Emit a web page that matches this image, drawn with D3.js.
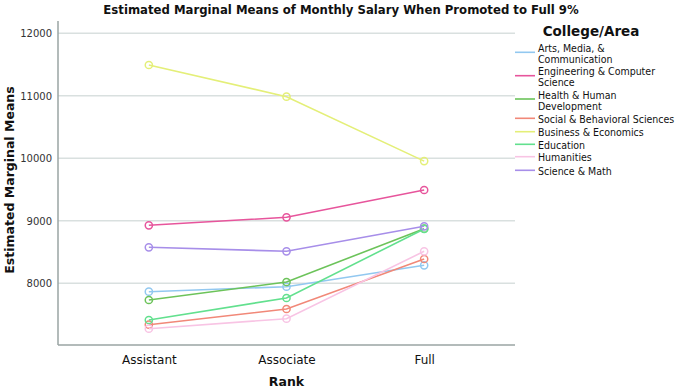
<!DOCTYPE html>
<html>
<head>
<meta charset="utf-8">
<script src="https://cdn.jsdelivr.net/npm/d3@7"></script>
<style>
  body { margin: 0; background: #fff; }
  text { font-family: "DejaVu Sans", sans-serif; fill: #111; }
  .narrow { font-family: "DejaVu Sans Condensed", "Liberation Sans Narrow", sans-serif; }
</style>
</head>
<body>
<svg id="chart" width="685" height="390"></svg>
<script>
const ranks = ["Assistant", "Associate", "Full"];
const colleges = [
  "Arts, Media, & Communication",
  "Engineering & Computer Science",
  "Health & Human Development",
  "Social & Behavioral Sciences",
  "Business & Economics",
  "Education",
  "Humanities",
  "Science & Math"
];
// legend wraps some names onto two lines
const legendLines = [
  ["Arts, Media, &", "Communication"],
  ["Engineering & Computer", "Science"],
  ["Health & Human", "Development"],
  ["Social & Behavioral Sciences"],
  ["Business & Economics"],
  ["Education"],
  ["Humanities"],
  ["Science & Math"]
];
const colors = ["#92c8f0", "#e7559c", "#6cc35a", "#f18878", "#e4ef78", "#62e08e", "#f8c4e4", "#a78ee9"];
const means = [
  [7866, 7946, 8288],
  [8928, 9056, 9493],
  [7733, 8021, 8874],
  [7338, 7589, 8389],
  [11493, 10986, 9955],
  [7413, 7765, 8870],
  [7274, 7434, 8512],
  [8576, 8512, 8912]
];
const yTicks = [8000, 9000, 10000, 11000, 12000];

const svg = d3.select("#chart");
const plotLeft = 58, plotRight = 515, plotTop = 21, plotBottom = 345;

const x = d3.scalePoint().domain(ranks).range([plotLeft, plotRight]).padding(0.66);
const y = d3.scaleLinear().domain([8000, 12000]).range([283.3, 33.3]);

// title
svg.append("text")
  .attr("class", "narrow")
  .attr("x", 341).attr("y", 9)
  .attr("dy", ".35em")
  .attr("text-anchor", "middle")
  .attr("font-size", 13)
  .attr("font-weight", "bold")
  .text("Estimated Marginal Means of Monthly Salary When Promoted to Full 9%");

// gridlines
svg.append("g")
  .selectAll("line")
  .data(yTicks)
  .join("line")
  .attr("x1", plotLeft).attr("x2", plotRight)
  .attr("y1", d => y(d)).attr("y2", d => y(d))
  .attr("stroke", "#d9e0df")
  .attr("stroke-width", 1.5);

// y axis
const yAxis = svg.append("g")
  .attr("transform", `translate(${plotLeft},0)`)
  .call(d3.axisLeft(y).tickValues(yTicks).tickSize(0).tickPadding(6).tickFormat(d3.format("d")));
yAxis.select(".domain").remove();
yAxis.selectAll("text").attr("font-size", 10).style("fill", "#333").style("font-family", "DejaVu Sans, sans-serif");

// x axis
const xAxis = svg.append("g")
  .attr("transform", `translate(0,${plotBottom})`)
  .call(d3.axisBottom(x).tickSize(0).tickPadding(10));
xAxis.select(".domain").remove();
xAxis.selectAll("text").attr("font-size", 12).style("fill", "#111").style("font-family", "DejaVu Sans, sans-serif");

// axis frame lines
svg.append("line")
  .attr("x1", plotLeft).attr("x2", plotLeft).attr("y1", plotTop).attr("y2", plotBottom)
  .attr("stroke", "#9aa5a3").attr("stroke-width", 1.5);
svg.append("line")
  .attr("x1", plotLeft).attr("x2", plotRight).attr("y1", plotBottom).attr("y2", plotBottom)
  .attr("stroke", "#9aa5a3").attr("stroke-width", 1.5);

// axis titles
svg.append("text")
  .attr("transform", "translate(10,180) rotate(-90)")
  .attr("dy", ".35em")
  .attr("text-anchor", "middle")
  .attr("font-size", 12.5)
  .attr("font-weight", "bold")
  .text("Estimated Marginal Means");

svg.append("text")
  .attr("x", (plotLeft + plotRight) / 2).attr("y", 382)
  .attr("dy", ".35em")
  .attr("text-anchor", "middle")
  .attr("font-size", 12.5)
  .attr("font-weight", "bold")
  .text("Rank");

// series
const line = d3.line().x((d, i) => x(ranks[i])).y(d => y(d));
const series = svg.append("g")
  .selectAll("g")
  .data(means)
  .join("g");

series.append("path")
  .attr("d", d => line(d))
  .attr("fill", "none")
  .attr("stroke", (d, i) => colors[i])
  .attr("stroke-width", 1.6);

series.each(function(d, i) {
  d3.select(this).selectAll("circle")
    .data(d)
    .join("circle")
    .attr("cx", (v, j) => x(ranks[j]))
    .attr("cy", v => y(v))
    .attr("r", 3.6)
    .attr("fill", "none")
    .attr("stroke", colors[i])
    .attr("stroke-width", 1.5);
});

// legend
svg.append("text")
  .attr("x", 591).attr("y", 31)
  .attr("dy", ".35em")
  .attr("text-anchor", "middle")
  .attr("font-size", 13.5)
  .attr("font-weight", "bold")
  .text("College/Area");

const legendY = [52.3, 75.7, 99, 118.3, 131.7, 144.3, 156.7, 170.3];
const legend = svg.append("g")
  .selectAll("g")
  .data(colleges)
  .join("g")
  .attr("transform", (d, i) => `translate(0,${legendY[i]})`);

legend.append("line")
  .attr("x1", 515).attr("x2", 535)
  .attr("stroke", (d, i) => colors[i])
  .attr("stroke-width", 1.6);

legend.each(function(d, i) {
  const lines = legendLines[i];
  const offset = lines.length > 1 ? -4 : 1;
  d3.select(this).selectAll("text")
    .data(lines)
    .join("text")
    .attr("class", "narrow")
    .attr("x", 538)
    .attr("y", (t, k) => offset + k * 11)
    .attr("dy", ".35em")
    .attr("font-size", 10.5)
    .text(t => t);
});
</script>
</body>
</html>
